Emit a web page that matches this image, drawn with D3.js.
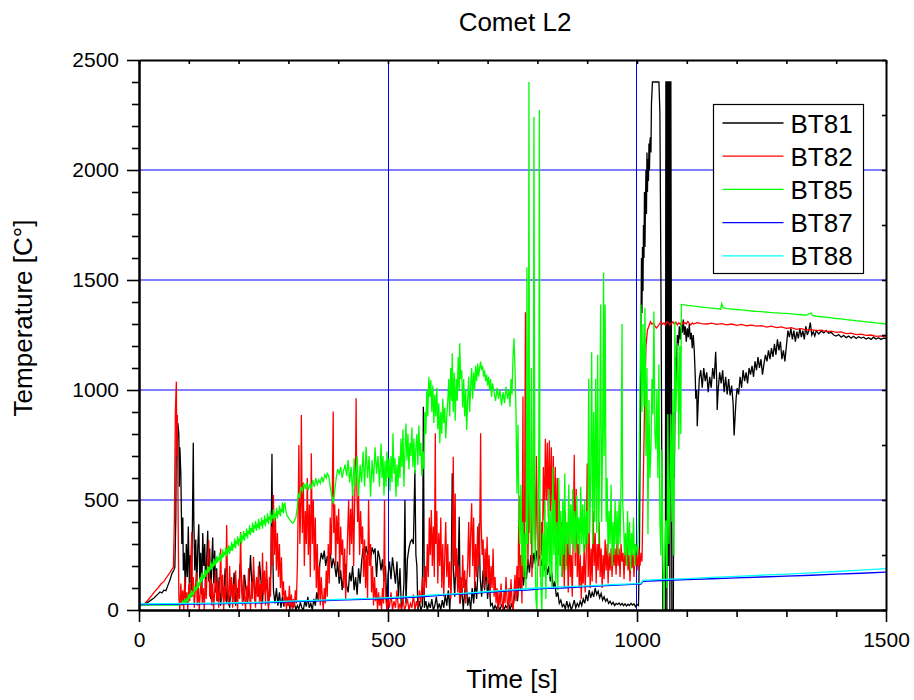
<!DOCTYPE html>
<html>
<head>
<meta charset="utf-8">
<script src="https://cdn.jsdelivr.net/npm/d3@7"></script>
<style>
  body { margin: 0; background: #fff; }
  text { font-family: "Liberation Sans", Arial, sans-serif; }
</style>
</head>
<body>
<svg id="chart" width="914" height="700"></svg>
<script>
// Chart text + ticks
const title = "Comet L2";
const xLabel = "Time [s]";
const yLabel = "Temperature [C°]";
const xTicks = [0, 500, 1000, 1500];
const yTicks = [0, 500, 1000, 1500, 2000, 2500];
const seriesNames = ["BT81", "BT82", "BT85", "BT87", "BT88"];
const seriesColors = ["#000000", "#ff0000", "#00ff00", "#0000ff", "#00ffff"];

// [time s, temperature]
const bt81 = [[0,25],[10,27],[20,38],[30,55],[38,72],[42,82],[46,78],[50,90],[54,88],[58,112],[62,135],[66,165],[70,182],[72,195],[74,420],[75,880],[77,760],[78,850],[80,800],[81,560],[82,740],[84,620],[86,300],[88,420],[89,180],
[91,260],[93,90],[95,300],[97,150],[99,380],[101,120],[103,250],[105,60],[107,330],[109,760],[110,420],[112,180],[114,320],[116,100],[118,280],[120,390],[122,140],[124,260],[126,70],[128,350],[130,200],[132,300],[134,90],[136,240],[138,360],[140,130],[142,280],[144,50],[146,210],[148,330],[150,120],[152,270],[154,80],[156,190],
[158,40],[161,150],[164,20],[167,110],[170,60],[173,190],[176,30],[179,90],[182,10],[185,140],[188,50],[191,170],[194,20],[197,100],[200,60],[203,210],[206,130],[209,40],[212,160],[215,90],[218,30],[221,120],[224,250],[227,80],[230,180],[233,40],[236,140],[239,60],[242,220],[245,130],[248,30],[251,170],[254,80],[257,140],[260,20],[263,100],
[265,200],[267,710],[268,350],[270,90],[273,30],[276,100],[279,20],[282,80],[285,10],[288,60],[291,15],[294,70],[297,20],[300,40],[303,5],[306,25],[309,10],[312,30],[315,0],[318,20],[321,5],[324,35],[327,10],[330,0],[333,40],[336,15],[339,60],[342,10],[345,30],[348,0],[351,50],[354,20],[357,80],[360,40],
[363,210],[366,260],[369,230],[372,270],[375,200],[378,245],[381,215],[384,260],[387,190],[390,235],[393,200],[396,150],
[399,220],[402,120],[405,180],[408,90],[411,160],[414,210],[417,110],[420,80],[423,170],[426,130],[429,200],[432,90],[435,150],[438,70],[441,190],[444,120],[447,220],
[450,280],[453,240],[456,290],[459,250],[462,280],[465,230],[468,285],[471,260],[474,280],[477,150],[480,270],[483,240],
[486,180],[489,230],[492,130],[495,200],[498,0],[500,160],[503,220],[506,140],[509,240],[512,180],[515,120],[518,220],[521,60],[524,190],[527,0],[530,50],
[532,120],[534,500],[536,30],[539,230],[542,280],[545,310],[548,320],[551,300],[554,636],[556,250],[558,200],[560,0],[563,40],[566,0],[569,20],[571,924],[573,10],[576,40],[579,0],[582,30],[585,10],[588,50],[591,0],[594,20],[597,60],[600,5],[603,30],[606,0],[609,45],[612,10],[615,70],[618,20],[621,90],[624,0],[627,150],[629,621],[631,200],[634,60],[637,280],[640,100],[643,424],[645,30],[648,120],[651,0],[654,80],[657,140],[660,20],[663,60],[666,0],[669,100],[672,30],[675,130],[678,50],[681,200],[683,394],[685,150],[688,60],[691,180],[694,90],[697,200],[700,50],[703,140],[706,20],[709,30],[712,0],[715,20],[718,5],[721,25],[724,0],[727,15],[730,30],[733,0],[736,20],[739,10],[742,35],[745,0],[748,25],[751,10],
[754,60],[757,120],[760,40],[763,150],[766,90],[769,180],[772,110],[775,200],[778,140],[781,230],[784,170],[787,250],[790,190],[793,260],[796,210],[799,270],[802,230],[805,250],[808,200],[811,240],[814,180],[817,220],[820,160],[823,200],[826,130],[829,170],[832,100],[835,130],[838,60],[841,80],[844,30],[847,45],[850,15],
[853,25],[856,5],[859,40],[862,10],[865,30],[868,0],[871,20],[874,45],[877,10],[880,30],[883,15],[886,40],[889,20],[892,50],[895,30],[898,70],[901,40],[904,90],[907,55],[910,80],[913,60],[916,100],[919,70],[922,85],[925,55],[928,75],[931,45],[934,60],[937,40],[940,50],[943,30],[946,40],[949,25],[952,35],[955,20],[958,30],[961,25],[964,32],[967,22],[970,30],[973,20],[976,28],[979,18],[982,26],[985,20],[988,30],[991,22],[994,28],[997,15],[1000,25],[1003,20],
[1005,300],[1006,700],[1007,900],[1008,1300],[1009,1600],[1010,1350],[1011,1650],[1012,1450],[1013,1750],[1014,1600],[1015,1900],[1016,1650],[1017,1850],[1018,2000],[1019,1800],[1020,2080],[1021,1900],[1022,2050],[1023,1950],[1024,2120],[1025,2000],[1026,2130],[1027,2150],[1028,2080],[1029,2300],[1031,2400],[1044,2400],[1046,2260],[1048,1500],[1050,600],[1052,0],[1057,0],[1058,2400],[1059,2400],[1060,0],[1061,2400],[1062,2400],[1063,200],[1064,2400],[1065,2400],[1066,0],[1067,2400],[1068,2400],[1069,1200],[1070,0],[1073,0],[1074,900],[1075,600],[1077,1150],[1079,1000],[1081,1250],
[1083,1200],[1085,1290],[1087,1230],[1089,1300],[1091,1260],[1093,1320],[1095,1250],[1097,1290],[1099,1220],[1101,1280],[1103,1240],[1105,1300],[1107,1230],[1109,1260],[1111,1190],[1113,1250],[1115,1180],[1117,1060],[1118,960],[1120,1000],[1121,835],[1123,950],[1125,1050],[1128,1090],[1131,1010],[1134,1100],[1137,1040],[1140,1080],[1143,990],[1146,1060],[1149,1010],[1152,1100],[1155,1050],[1158,1174],[1160,1050],[1161,909],[1163,1000],[1166,1080],[1169,1030],[1172,1090],[1175,990],[1178,1060],[1181,980],[1184,1050],[1187,975],[1190,1020],[1193,940],[1195,793],[1197,880],[1199,960],[1201,1008],[1204,980],[1207,1060],[1210,1010],[1213,1090],[1216,1040],[1219,1080],[1222,1030],[1225,1100],[1228,1070],[1231,1110],[1234,1060],[1237,1130],[1240,1090],[1243,1150],[1246,1100],[1249,1140],[1252,1070],[1255,1120],[1258,1160],[1261,1130],[1264,1180],[1267,1140],[1270,1190],[1273,1150],[1276,1210],[1279,1160],[1282,1230],[1285,1180],[1288,1220],[1291,1140],[1294,1180],[1297,1130],[1300,1200],[1303,1270],[1306,1240],[1309,1280],[1312,1230],[1315,1270],[1318,1220],[1321,1265],[1324,1235],[1327,1280],[1330,1240],[1333,1270],[1336,1230],[1339,1290],[1342,1250],[1345,1270],[1348,1306],[1351,1250],[1354,1265],[1357,1245],[1360,1270],[1365,1255],[1370,1268],[1375,1260],[1380,1270],[1385,1258],[1390,1262],[1395,1250],[1400,1245],[1405,1252],[1410,1240],[1415,1248],[1420,1238],[1425,1245],[1430,1236],[1435,1244],[1440,1234],[1445,1242],[1450,1236],[1455,1240],[1460,1232],[1465,1238],[1470,1230],[1475,1240],[1480,1232],[1485,1238],[1490,1230],[1495,1236],[1500,1234]];

const bt82 = [[0,22],[8,23],[14,35],[20,50],[26,68],[32,85],[38,100],[44,118],[50,130],[56,150],[62,170],[66,185],[69,195],[71,400],[73,900],[75,1038],[76,700],[77,886],[78,600],[79,300],[80,60],[82,0],[84,120],[86,20],[88,90],[90,0],[92,150],[94,30],[96,80],[98,0],[100,120],[102,40],[104,212],[106,355],[107,60],[109,150],[111,10],[113,90],[115,170],[117,20],[119,110],[121,0],[123,80],[125,160],[127,30],[129,100],[131,0],[133,140],[135,50],[137,200],[140,318],[142,60],[144,143],
[146,20],[148,120],[150,0],[152,90],[154,180],[156,40],[158,130],[160,10],[162,100],[164,280],[166,50],[168,160],[170,0],[172,110],[174,40],[176,386],[178,90],[180,20],[182,200],[184,60],[186,150],[188,10],[190,120],[192,30],[194,180],[196,80],[198,0],[200,140],[202,50],[204,355],[206,90],[208,20],[210,160],[212,60],[214,0],[216,110],[218,40],[220,190],[222,70],[224,0],[226,130],[228,50],[230,242],[232,80],[234,10],[236,150],[238,60],[240,200],[242,30],[244,120],[246,0],[248,260],[250,70],[252,180],[254,20],[256,220],[258,90],[260,0],[262,150],[264,60],[266,380],[268,200],[270,523],[272,250],[274,420],[276,180],[278,350],[280,150],[282,300],[284,100],[286,240],[288,60],[290,130],[292,20],[294,90],[296,0],[298,60],[300,20],[302,110],[304,10],[306,70],[308,0],[310,50],[312,15],[314,90],[316,30],[318,200],[320,530],[321,750],[323,300],[325,500],[326,886],[328,350],[330,580],[332,200],[334,450],[336,300],[338,600],[340,250],[342,480],[344,150],[346,712],[348,300],[350,500],[352,180],[354,420],[356,100],[358,300],[360,50],[362,200],[364,20],[366,150],[368,60],[370,0],[372,100],[374,30],[376,180],[378,60],[380,300],[382,120],[384,420],[386,250],[388,500],[390,902],[391,350],[393,480],[395,200],[397,430],[399,300],[401,460],[403,150],[405,380],[407,250],[409,320],[411,100],[413,280],[415,50],[417,200],[419,350],[421,500],[423,250],[425,460],[427,300],[429,550],[431,200],[433,480],[435,700],[436,962],[437,600],[439,400],[441,520],[443,250],[445,450],[447,300],[449,380],[451,150],[453,320],[455,100],[457,250],[459,50],[461,500],[463,200],[465,300],[467,80],[469,200],[471,20],[473,150],[475,40],[477,100],[479,0],[481,80],[483,20],[485,60],[487,0],[489,100],[491,30],[493,500],[494,150],[496,40],[498,0],[500,60],[503,10],[506,80],[509,0],[512,40],[515,10],[518,90],[521,0],[524,30],[527,5],[530,60],[533,0],[536,20],[539,50],[542,0],[545,30],[548,10],[551,70],[554,0],[557,40],[560,10],[563,90],[566,30],[569,150],[572,50],[575,200],[577,100],[579,300],[581,150],[583,420],[585,250],[587,454],[589,200],[591,380],[593,150],[595,803],[596,300],[598,450],[600,120],[602,350],[604,200],[606,420],[608,100],[610,300],[612,60],[614,250],[616,400],[618,150],[620,300],[622,100],[624,220],[626,50],[628,180],[630,350],[631,697],[633,200],[635,530],[636,150],[638,280],[640,80],[642,200],[644,30],[646,150],[648,60],[650,250],[652,100],[654,180],[656,30],[658,120],[660,200],[662,400],[664,150],[666,350],[668,485],[670,200],[672,420],[674,100],[676,300],[678,150],[680,380],[682,200],[684,300],[686,803],[687,400],[689,250],[691,320],[693,100],[695,280],[697,150],[699,333],[701,120],[703,250],[705,60],[707,200],[709,100],[711,280],[713,60],[715,150],[717,30],[719,100],[721,0],[723,80],[725,20],[727,120],[729,40],[731,0],[733,90],[735,30],[737,150],[739,50],[741,0],[743,100],[745,20],[747,140],[749,40],[751,0],[753,80],[755,160],[757,40],[759,200],[761,60],[763,520],[765,100],[767,250],[769,30],[771,970],[772,150],[774,300],[776,1353],[777,400],[779,794],[781,200],[783,600],[785,350],[787,500],[789,150],[791,400],[793,1100],[794,600],[796,250],[798,700],[800,350],[802,200],[804,500],[806,150],[808,400],[810,250],[812,650],[814,408],[816,778],[818,500],[820,760],[822,420],[824,770],[826,450],[828,740],[830,400],[832,700],[834,350],[836,650],[838,300],[840,600],[842,250],[844,500],[846,200],[848,400],[850,150],[852,350],[854,100],[856,450],[858,200],[860,300],[862,80],[864,400],[866,150],[868,250],[870,60],[872,350],[874,706],[876,200],[878,550],[880,150],[882,300],[884,100],[886,250],[888,50],[890,200],[892,120],[894,300],[896,80],[898,250],[900,666],[902,150],[904,350],[906,100],[908,280],[910,130],[912,450],[914,200],[916,350],[918,120],[920,300],[922,180],[924,400],[926,150],[928,280],[930,100],[932,250],[934,140],[936,320],[938,180],[940,300],[942,120],[944,260],[946,180],[948,280],[950,150],[952,300],[954,200],[956,280],[958,160],[960,320],[962,200],[964,280],[966,150],[968,300],[970,220],[972,260],[974,140],[976,290],[978,200],[980,320],[982,180],[984,250],[986,130],[988,280],[990,190],[992,260],[994,150],[996,300],[998,200],[1000,250],[1002,180],[1004,280],[1006,200],[1008,260],[1010,220],[1012,500],[1015,900],[1018,1200],[1021,1273],[1024,1290],[1027,1310],[1030,1300],[1033,1305],[1036,1290],[1039,1282],[1042,1290],[1045,1300],[1048,1310],[1051,1300],[1054,1305],[1057,1295],[1060,1310],[1063,1305],[1066,1296],[1069,1303],[1072,1310],[1075,1300],[1078,1308],[1081,1295],[1084,1305],[1087,1298],[1090,1310],[1093,1302],[1096,1306],[1099,1300],[1102,1312],[1105,1303],[1108,1296],[1111,1305],[1114,1300],[1120,1306],[1130,1302],[1140,1300],[1150,1304],[1160,1298],[1170,1302],[1180,1296],[1190,1300],[1200,1294],[1210,1298],[1220,1292],[1230,1295],[1240,1290],[1250,1293],[1260,1286],[1270,1290],[1280,1284],[1290,1287],[1300,1280],[1310,1283],[1320,1276],[1330,1279],[1340,1272],[1350,1274],[1360,1270],[1370,1272],[1380,1265],[1390,1268],[1400,1262],[1410,1264],[1420,1256],[1430,1258],[1440,1252],[1450,1254],[1460,1248],[1470,1250],[1480,1244],[1490,1246],[1500,1240]];

const bt85 = [[0,22],[80,22],[85,25],[88,40],[90,30],[92,48],[93,45],[95,30],[96,55],[98,40],[99,70],[101,50],[102,75],[104,55],[105,90],[107,65],[108,85],[110,70],[111,110],[113,85],[114,105],[116,90],[117,130],[119,100],[120,125],[122,110],[123,150],[125,125],[126,170],[128,135],[129,160],[131,145],[132,185],[134,150],[135,180],[137,165],[138,200],[140,170],[141,195],[143,180],[144,220],[146,185],[147,210],[149,195],[150,235],[152,200],[153,225],[155,210],[156,245],[158,215],[159,240],[161,225],[162,260],[164,220],[165,250],[167,235],[168,275],[170,240],[171,265],[173,250],[174,285],[176,245],[177,278],[179,260],[180,295],[182,255],[183,288],[185,270],[186,310],[188,270],[189,300],[191,285],[192,325],[194,280],[195,315],[197,300],[198,335],[200,290],[201,325],[203,310],[204,350],[206,300],[207,338],[209,320],[210,360],[212,315],[213,350],[215,335],[216,370],[218,325],[219,360],[221,345],[222,385],[224,340],[225,372],[227,355],[228,398],[230,350],[231,385],[233,370],[234,405],[236,360],[237,392],[239,375],[240,415],[242,365],[243,400],[245,385],[246,420],[248,370],[249,408],[251,390],[252,430],[254,380],[255,415],[257,400],[258,440],[260,390],[261,425],[263,410],[264,450],[266,395],[267,432],[269,415],[270,458],[272,405],[273,440],[275,425],[276,465],[278,415],[279,450],[281,435],[282,475],[284,425],[285,460],[287,445],[288,490],[290,440],[291,480],[293,485],[295,450],[297,430],[300,420],[303,410],[306,400],[309,394],[312,405],[315,420],[318,470],[320,530],[322,510],[325,560],[328,540],[331,575],[334,550],[337,580],[340,545],[343,570],[346,555],[349,590],[352,560],[355,600],[358,570],[361,591],[364,575],[367,605],[370,580],[373,615],[376,600],[378,621],[381,610],[384,560],[387,520],[390,485],[393,540],[396,600],[399,640],[402,620],[405,650],[408,600],[411,636],[414,660],[417,610],[420,682],[423,580],[426,650],[429,520],[432,690],[435,560],[438,700],[441,520],[444,660],[447,580],[450,720],[453,560],[456,742],[459,600],[462,700],[465,515],[468,680],[471,580],[474,740],[477,620],[480,700],[483,560],[486,757],
[488,600],[490,700],[492,520],[494,680],[496,560],[498,720],[500,600],[502,690],[504,540],[506,700],[508,580],[510,803],[512,620],[514,690],[516,515],[518,660],[520,560],[522,700],[524,600],
[526,780],[528,650],[530,820],[532,560],[534,720],[536,848],[538,680],[540,800],[542,640],[544,760],[546,700],[548,830],[550,650],[552,780],[554,620],[556,740],[558,800],[560,660],[562,840],[564,700],[566,760],[568,610],[570,720],[572,640],
[574,900],[576,800],[578,1000],[580,880],[582,1060],[584,970],
[586,1045],[588,900],[590,1020],[592,850],[594,980],[596,880],[598,1010],[600,820],[602,940],[604,758],[606,900],[608,800],[610,960],[612,850],[614,920],[616,780],[618,880],
[620,950],[622,1050],[624,880],[626,1100],[628,950],[629,1167],[631,900],[633,1080],[635,860],[637,1050],[639,950],[641,1150],[643,1000],[644,1212],[646,1050],
[648,1090],[650,920],[652,1050],[654,880],[656,1000],[658,818],[660,950],[662,1060],[664,900],
[666,1020],[668,1100],[670,960],[672,1080],[674,1000],[676,1110],[678,1040],[680,1120],[682,1060],[684,1100],[686,1129],[688,1090],[690,1110],[692,1060],[694,1090],[696,1040],[698,1070],[700,1020],[702,1060],[704,1000],[706,1050],[708,970],[710,1030],
[713,990],[716,950],[719,1010],[722,960],[725,1000],[728,930],[731,990],[734,940],[737,1015],[740,960],[743,1000],[745,924],
[747,1050],[749,980],[751,1150],[753,1235],[755,1100],[757,900],[759,530],[761,842],[763,400],
[765,300],[767,569],[769,200],[771,400],[773,150],[775,350],[777,87],[779,1558],[780,300],[782,600],[783,2400],[784,600],[786,300],[788,1100],[790,250],[792,500],[793,2241],[795,400],[797,50],[799,0],[801,300],[803,800],[804,2273],[805,500],[807,100],[809,0],[811,350],[813,150],[815,500],[817,50],[819,400],
[821,200],[823,550],[825,150],[827,450],[829,100],[831,650],[833,250],[835,500],[837,120],[839,400],[841,90],[843,600],[845,200],[847,450],[849,150],[851,500],[853,250],[855,620],[857,180],[859,400],
[861,300],[863,570],[865,250],[867,480],[869,300],[871,550],[873,280],[875,450],[877,260],[879,520],[881,300],[883,420],[885,250],[887,560],[889,300],[891,480],[893,260],[895,500],[897,280],[899,450],[901,300],[903,1051],[905,350],[907,600],[909,1172],[911,300],[913,900],[915,400],[917,1051],[919,350],[921,1160],[923,300],[925,700],[927,1389],[929,400],[931,800],[933,1534],[934,700],[936,1389],[938,400],[940,600],[942,250],
[944,450],[946,300],[948,569],[950,200],[952,400],[954,250],[956,500],[958,300],[960,450],[962,250],[964,500],[966,300],[968,600],[970,1300],[971,500],[973,400],[975,250],[977,350],[979,200],[981,450],[983,250],[985,400],[987,180],[989,350],[991,250],[993,420],[995,200],[997,300],[999,280],[1001,250],
[1003,400],[1006,1000],[1008,1389],[1010,900],[1012,1300],[1014,923],[1016,1373],[1018,700],[1020,1100],[1022,344],[1024,955],[1026,600],[1028,730],[1030,1050],[1032,890],[1034,1357],[1036,800],[1038,730],[1040,1000],[1042,600],[1044,1116],[1046,400],[1048,248],[1050,730],[1052,200],[1054,0],[1056,300],[1058,408],[1060,100],[1062,890],[1064,300],[1066,569],[1068,890],[1070,400],[1072,1000],[1074,248],[1076,1309],[1078,900],[1080,1051],[1082,1212],[1084,730],[1086,1200],[1088,800],[1089,1389],
[1095,1387],[1100,1385],[1110,1382],[1120,1380],[1130,1377],[1140,1374],[1150,1372],[1160,1370],[1168,1367],[1170,1392],[1173,1374],[1180,1370],[1190,1368],[1200,1366],[1210,1364],[1220,1362],[1230,1359],[1240,1357],[1250,1356],[1260,1354],[1270,1352],[1280,1351],[1290,1349],[1300,1348],[1310,1346],[1320,1344],[1330,1342],[1340,1340],[1350,1350],[1352,1339],[1360,1336],[1370,1333],[1380,1331],[1390,1328],[1400,1325],[1410,1323],[1420,1320],[1430,1318],[1440,1315],[1450,1313],[1460,1310],[1470,1308],[1480,1305],[1490,1303],[1500,1300]];

const bt87 = [[0,24],[50,26],[100,27],[150,28],[200,30],[250,33],[300,37],[350,41],[400,45],[450,48],[500,52],[550,58],[600,65],[620,70],[650,72],[700,80],[750,88],[780,90],[800,95],[820,98],[850,100],[880,104],[900,106],[950,112],[980,115],[1000,118],[1008,118],[1012,130],[1050,134],[1100,138],[1150,142],[1200,146],[1250,150],[1300,154],[1350,158],[1400,163],[1450,167],[1500,172]];

const bt88 = [[0,28],[50,29],[100,30],[150,31],[200,33],[250,36],[300,40],[350,44],[400,48],[450,52],[500,56],[550,62],[600,70],[650,76],[700,84],[750,92],[800,100],[850,105],[900,110],[950,115],[1000,120],[1008,122],[1012,135],[1050,139],[1100,143],[1150,148],[1200,153],[1250,158],[1300,163],[1350,169],[1400,175],[1450,181],[1500,188]];

const seriesData = [bt81, bt82, bt85, bt87, bt88];

// Layout
const margin = { top: 60, right: 28, bottom: 90, left: 139 };
const width = 914 - margin.left - margin.right;
const height = 700 - margin.top - margin.bottom;
const font = '"Liberation Sans", Arial, sans-serif';

const svg = d3.select("#chart");
const g = svg.append("g").attr("transform", `translate(${margin.left},${margin.top})`);

const x = d3.scaleLinear().domain([0, 1500]).range([0, width]);
const y = d3.scaleLinear().domain([0, 2500]).range([height, 0]);

// Grid
g.append("g").selectAll("line")
  .data(yTicks.filter(v => v > 0 && v < 2500))
  .enter().append("line")
  .attr("x1", 0).attr("x2", width)
  .attr("y1", d => y(d)).attr("y2", d => y(d))
  .attr("stroke", "#0000ff").attr("stroke-width", 1);

// snap vertical grid to an even pixel column so the 1px line stays crisp
const snapX = d => 2 * Math.floor((x(d) + margin.left) / 2) - margin.left + 0.5;
g.append("g").selectAll("line")
  .data(xTicks.filter(v => v > 0 && v < 1500))
  .enter().append("line")
  .attr("x1", snapX).attr("x2", snapX)
  .attr("y1", 0).attr("y2", height)
  .attr("stroke", "#0000ff").attr("stroke-width", 1);

// Series
svg.append("defs").append("clipPath").attr("id", "plotClip")
  .append("rect").attr("x", 0).attr("y", 0).attr("width", width).attr("height", height);

const line = d3.line().x(d => x(d[0])).y(d => y(d[1]));

g.append("g").attr("clip-path", "url(#plotClip)")
  .selectAll("path")
  .data(seriesData)
  .enter().append("path")
  .attr("d", line)
  .attr("fill", "none")
  .attr("stroke", (d, i) => seriesColors[i])
  .attr("stroke-width", 1.3);

// Axes
function styleAxis(sel, size) {
  sel.select(".domain").attr("stroke", "#000").attr("stroke-width", 2);
  sel.selectAll(".tick line").attr("stroke", "#000").attr("stroke-width", 1.6);
  sel.selectAll("text").attr("font-family", font).attr("font-size", size).attr("fill", "#000");
}

const minorX = d3.range(0, 1501, 100).filter(v => v % 500 !== 0);
const minorY = d3.range(0, 2501, 100).filter(v => v % 500 !== 0);

g.append("g").attr("transform", `translate(0,${height})`)
  .call(d3.axisBottom(x).tickValues(minorX).tickSize(7).tickSizeOuter(0).tickFormat(""))
  .call(s => styleAxis(s, 21));
g.append("g").attr("transform", `translate(0,${height})`)
  .call(d3.axisBottom(x).tickValues(xTicks).tickSize(12).tickSizeOuter(0).tickPadding(10).tickFormat(d3.format("d")))
  .call(s => styleAxis(s, 21));

g.append("g")
  .call(d3.axisLeft(y).tickValues(minorY).tickSize(7).tickSizeOuter(0).tickFormat(""))
  .call(s => styleAxis(s, 21));
g.append("g")
  .call(d3.axisLeft(y).tickValues(yTicks).tickSize(12).tickSizeOuter(0).tickPadding(8).tickFormat(d3.format("d")))
  .call(s => styleAxis(s, 21));

g.append("g")
  .call(d3.axisTop(x).tickValues(d3.range(0, 1501, 100)).tickSize(-4).tickSizeOuter(0).tickFormat(""))
  .call(s => styleAxis(s, 21));
g.append("g").attr("transform", `translate(${width},0)`)
  .call(d3.axisRight(y).tickValues(d3.range(0, 2501, 250)).tickSize(-4).tickSizeOuter(0).tickFormat(""))
  .call(s => styleAxis(s, 21));

// Titles
svg.append("text")
  .attr("x", 515).attr("y", 31)
  .attr("text-anchor", "middle")
  .attr("font-family", font).attr("font-size", 26)
  .text(title);

svg.append("text")
  .attr("x", 512).attr("y", 688)
  .attr("text-anchor", "middle")
  .attr("font-family", font).attr("font-size", 26)
  .text(xLabel);

svg.append("text")
  .attr("transform", "translate(32,318) rotate(-90)")
  .attr("text-anchor", "middle")
  .attr("font-family", font).attr("font-size", 26)
  .text(yLabel);

// Legend
const legend = svg.append("g").attr("transform", "translate(713.5,104.5)");
legend.append("rect")
  .attr("width", 150).attr("height", 169)
  .attr("fill", "#fff").attr("stroke", "#000").attr("stroke-width", 1.2);

const items = legend.selectAll("g.item")
  .data(seriesNames)
  .enter().append("g")
  .attr("transform", (d, i) => `translate(0,${18.5 + i * 33.2})`);

items.append("line")
  .attr("x1", 9).attr("x2", 70)
  .attr("stroke", (d, i) => seriesColors[i])
  .attr("stroke-width", 1.3);

items.append("text")
  .attr("x", 77).attr("y", 9.5)
  .attr("font-family", font).attr("font-size", 26)
  .text(d => d);
</script>
</body>
</html>
